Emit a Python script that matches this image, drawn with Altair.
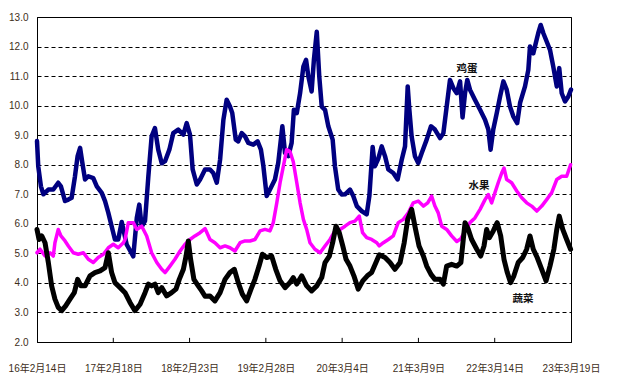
import altair as alt
import pandas as pd

# ---- data (day offset from 2016-02-14, price) ----
egg_days = [0, 6, 19, 31, 55, 79, 103, 116, 136, 152, 168, 184, 197, 209, 220, 233, 249, 273, 290, 314,
            330, 346, 362, 378, 394, 411, 435, 467, 484, 496, 508, 524, 540, 556, 572, 588, 605, 621, 642, 661,
            685, 710, 726, 742, 755, 775, 791, 815, 839, 855, 872, 888, 904, 920, 936, 947, 964, 976, 993, 1009,
            1025, 1049, 1070, 1086, 1098, 1114, 1130, 1154, 1170, 1190, 1203, 1219, 1235, 1246, 1260, 1276, 1292, 1305, 1316, 1332,
            1343, 1357, 1369, 1381, 1397, 1413, 1434, 1445, 1461, 1478, 1494, 1518, 1534, 1551, 1575, 1599, 1612, 1628, 1639, 1655,
            1672, 1688, 1704, 1728, 1749, 1769, 1785, 1798, 1806, 1817, 1833, 1849, 1866, 1890, 1911, 1930, 1955, 1971, 1987, 2003,
            2019, 2036, 2052, 2064, 2076, 2087, 2100, 2124, 2149, 2173, 2189, 2200, 2213, 2230, 2246, 2262, 2278, 2294, 2310, 2329,
            2343, 2367, 2383, 2391, 2407, 2431, 2443, 2456, 2472, 2488, 2504, 2521, 2533, 2545, 2561, 2577, 2590]
egg_vals = [8.8, 7.95, 7.27, 7.0, 7.16, 7.16, 7.39, 7.27, 6.77, 6.82, 6.88, 7.6, 8.29, 8.57, 8.06, 7.5, 7.61, 7.55, 7.27, 7.05,
            6.77, 6.37, 5.92, 5.47, 5.47, 6.06, 5.3, 4.9, 6.2, 6.65, 5.9, 6.1, 7.6, 8.96, 9.24, 8.51, 8.05, 8.12, 8.51, 9.07,
            9.19, 9.02, 9.41, 9.02, 7.84, 7.33, 7.5, 7.84, 7.84, 7.72, 7.39, 8.17, 9.52, 10.2, 9.97, 9.75, 8.85, 8.79, 9.07, 8.96,
            8.74, 8.68, 8.79, 8.51, 7.95, 6.94, 7.16, 7.5, 8.06, 9.3, 8.4, 8.29, 8.74, 9.86, 9.75, 10.42, 11.32, 11.55, 10.99, 10.48,
            11.55, 12.5, 10.99, 9.97, 9.86, 9.3, 8.85, 7.95, 7.16, 6.99, 7.0, 7.16, 6.94, 6.6, 6.43, 6.32, 6.94, 8.6, 7.95, 8.2,
            8.62, 8.29, 7.84, 7.72, 7.5, 8.17, 8.62, 10.65, 9.86, 8.96, 8.29, 8.06, 8.4, 8.85, 9.3, 9.19, 8.9, 9.07, 9.97, 10.87,
            10.6, 10.42, 10.82, 9.6, 10.42, 10.87, 10.54, 10.2, 9.86, 9.52, 9.19, 8.51, 9.19, 9.75, 10.31, 10.82, 10.54, 9.97, 9.64, 9.41,
            10.09, 10.65, 11.21, 12.0, 11.77, 12.45, 12.73, 12.45, 12.17, 11.89, 11.32, 10.65, 11.27, 10.42, 10.14, 10.31, 10.54]

fruit_days = [0, 15, 39, 63, 79, 87, 103, 116, 136, 152, 176, 200, 225, 249, 273, 297, 322, 346, 370, 394,
              419, 427, 443, 467, 484, 508, 532, 556, 581, 605, 621, 645, 669, 694, 718, 742, 766, 791, 815, 839,
              863, 888, 912, 936, 960, 985, 1009, 1033, 1057, 1082, 1106, 1130, 1146, 1163, 1179, 1195, 1211, 1227, 1243, 1260,
              1276, 1292, 1308, 1324, 1348, 1373, 1397, 1421, 1445, 1470, 1494, 1518, 1542, 1563, 1579, 1599, 1623, 1648, 1660, 1680,
              1704, 1728, 1752, 1777, 1801, 1825, 1849, 1874, 1895, 1914, 1930, 1946, 1963, 1987, 2011, 2036, 2056, 2076, 2100, 2124,
              2149, 2173, 2189, 2205, 2221, 2237, 2254, 2265, 2278, 2302, 2327, 2351, 2375, 2399, 2424, 2448, 2472, 2496, 2521, 2545,
              2569, 2588]
fruit_vals = [5.02, 5.14, 4.91, 5.02, 4.91, 5.36, 5.81, 5.59, 5.42, 5.25, 5.02, 4.97, 5.02, 4.8, 4.69, 4.86, 4.97, 5.19, 5.31, 5.19,
              5.36, 5.47, 6.04, 6.04, 5.81, 5.92, 5.59, 5.02, 4.69, 4.46, 4.35, 4.57, 4.8, 5.08, 5.31, 5.47, 5.59, 5.7, 5.84, 5.47,
              5.36, 5.19, 5.25, 5.19, 5.08, 5.36, 5.42, 5.42, 5.47, 5.76, 5.81, 5.76, 6.04, 6.71, 7.39, 7.95, 8.51, 8.45, 8.1, 7.39,
              6.71, 6.15, 5.81, 5.36, 5.14, 5.02, 5.25, 5.47, 5.76, 5.81, 5.92, 6.04, 6.09, 6.26, 5.7, 5.53, 5.47, 5.36, 5.25, 5.36,
              5.47, 5.59, 6.04, 6.15, 6.37, 6.71, 6.77, 6.6, 6.71, 6.94, 6.6, 6.37, 5.92, 5.81, 5.59, 5.4, 5.5, 5.76, 6.04, 6.2,
              6.49, 6.82, 6.99, 6.71, 7.05, 7.39, 7.72, 7.89, 7.5, 7.39, 7.11, 6.88, 6.71, 6.6, 6.43, 6.6, 6.82, 7.05, 7.5, 7.61,
              7.61, 8.0]

veg_days = [0, 10, 23, 39, 55, 71, 87, 103, 120, 139, 160, 181, 197, 213, 233, 257, 281, 306, 330, 346,
            362, 378, 403, 427, 451, 475, 500, 524, 540, 556, 572, 588, 605, 629, 653, 674, 690, 710, 723, 734,
            745, 761, 782, 799, 815, 839, 863, 888, 912, 936, 957, 976, 996, 1017, 1038, 1057, 1077, 1093, 1114, 1138,
            1158, 1179, 1203, 1227, 1243, 1260, 1284, 1308, 1332, 1357, 1381, 1397, 1418, 1434, 1450, 1466, 1483, 1499, 1518, 1537,
            1558, 1580, 1602, 1623, 1644, 1660, 1688, 1712, 1736, 1761, 1781, 1798, 1817, 1833, 1853, 1874, 1890, 1911, 1930, 1955,
            1971, 1987, 2011, 2036, 2056, 2068, 2076, 2092, 2108, 2133, 2152, 2168, 2181, 2194, 2213, 2232, 2249, 2265, 2281, 2297,
            2313, 2334, 2356, 2375, 2391, 2407, 2426, 2448, 2469, 2488, 2507, 2521, 2533, 2550, 2569, 2588]
veg_vals = [5.81, 5.47, 5.59, 5.36, 4.69, 3.9, 3.45, 3.17, 3.06, 3.22, 3.45, 3.67, 4.12, 3.9, 3.9, 4.24, 4.35, 4.41, 4.52, 5.02,
            4.35, 4.01, 3.84, 3.67, 3.34, 3.06, 3.28, 3.67, 3.96, 3.9, 3.96, 3.67, 3.84, 3.56, 3.67, 3.79, 4.12, 4.46, 4.91, 5.42,
            4.8, 4.12, 3.9, 3.73, 3.55, 3.56, 3.39, 3.67, 4.12, 4.35, 4.46, 4.01, 3.62, 3.39, 3.79, 4.12, 4.57, 4.97, 4.86, 4.91,
            4.46, 4.07, 3.84, 4.01, 4.18, 3.96, 4.24, 3.9, 3.73, 3.9, 4.18, 4.69, 4.91, 5.36, 5.92, 5.7, 5.25, 4.8, 4.57, 4.24,
            3.79, 4.07, 4.24, 4.35, 4.69, 4.95, 4.86, 4.69, 4.46, 4.69, 5.36, 6.15, 6.49, 5.92, 5.25, 4.91, 4.57, 4.29, 4.12, 4.12,
            3.96, 4.57, 4.63, 4.57, 4.69, 5.5, 6.04, 5.81, 5.47, 5.14, 4.91, 5.25, 5.81, 5.53, 5.76, 6.04, 5.59, 4.8, 4.35, 4.01,
            4.24, 4.69, 4.86, 5.14, 5.59, 5.14, 4.86, 4.46, 4.07, 4.57, 5.14, 5.81, 6.26, 5.81, 5.47, 5.14]

series_names = ["鸡蛋", "水果", "蔬菜"]
series_colors = ["#000080", "#FF00FF", "#000000"]
series_widths = [4.5, 3.5, 5]

tick_days = [0, 370, 740, 1110, 1480, 1850, 2220, 2590]
tick_labels = ["16年2月14日", "17年2月18日", "18年2月23日", "19年2月28日",
               "20年3月4日", "21年3月9日", "22年3月14日", "23年3月19日"]

label_days = [2086, 2144, 2357]
label_vals = [11.24, 7.28, 3.44]

y_ticks = list(range(2, 14))

# ---- build tables ----
rows = []
for name, days, vals in zip(series_names, [egg_days, fruit_days, veg_days], [egg_vals, fruit_vals, veg_vals]):
    for d, v in zip(days, vals):
        rows.append({"series": name, "day": d, "value": v})
df = pd.DataFrame(rows)
lab_df = pd.DataFrame({"series": series_names, "day": label_days, "value": label_vals})
tick_df = pd.DataFrame({"day": tick_days[1:-1], "y0": [2.0] * 6, "y1": [2.14] * 6})

label_expr = ("[" + ",".join(f"'{t}'" for t in tick_labels) + "][indexof(["
              + ",".join(str(d) for d in tick_days) + "], datum.value)]")

num_font = "Liberation Sans, Noto Sans CJK SC"

x_scale = alt.Scale(domain=[0, 2590], nice=False, zero=False)
y_scale = alt.Scale(domain=[2, 13], nice=False, zero=False)

x_axis = alt.Axis(values=tick_days, labelExpr=label_expr, title=None, grid=False,
                  tickSize=0, labelPadding=21, domainColor="black", labelColor="#3d2e1a",
                  labelFont=num_font, labelFontSize=10, labelOverlap=False, labelFlush=False)
y_axis = alt.Axis(values=y_ticks, format=".1f", title=None, grid=True, gridColor="black",
                  gridDash=[4, 3], gridWidth=1, tickSize=0, labelPadding=9,
                  domainColor="black", labelColor="#3d2e1a", labelFont=num_font, labelFontSize=10)

X = alt.X("day:Q", scale=x_scale, axis=x_axis)
Y = alt.Y("value:Q", scale=y_scale, axis=y_axis)

base = alt.Chart(df)
layers = []
for name, col, w in zip(series_names, series_colors, series_widths):
    layers.append(
        base.transform_filter(alt.datum.series == name)
        .mark_line(color=col, strokeWidth=w, strokeJoin="round", strokeCap="round")
        .encode(x=X, y=Y)
    )

ticks = alt.Chart(tick_df).mark_rule(color="black", strokeWidth=1).encode(
    x=alt.X("day:Q", scale=x_scale, axis=x_axis),
    y=alt.Y("y0:Q", scale=y_scale, axis=y_axis),
    y2="y1:Q",
)

labels = alt.Chart(lab_df).mark_text(font="Noto Sans CJK SC", fontSize=10.5, fontWeight="bold",
                                     color="#111111", baseline="middle", align="center").encode(
    x=X, y=Y, text="series:N",
)

chart = alt.layer(*layers, ticks, labels).properties(
    width=534, height=325,
    autosize=alt.AutoSizeParams(type="none"),
    padding={"left": 29, "top": 9, "right": 45, "bottom": 40},
    background="white",
).configure_view(stroke="black", strokeWidth=1)

chart.save("out.html", embed_options={"renderer": "svg", "actions": False})
